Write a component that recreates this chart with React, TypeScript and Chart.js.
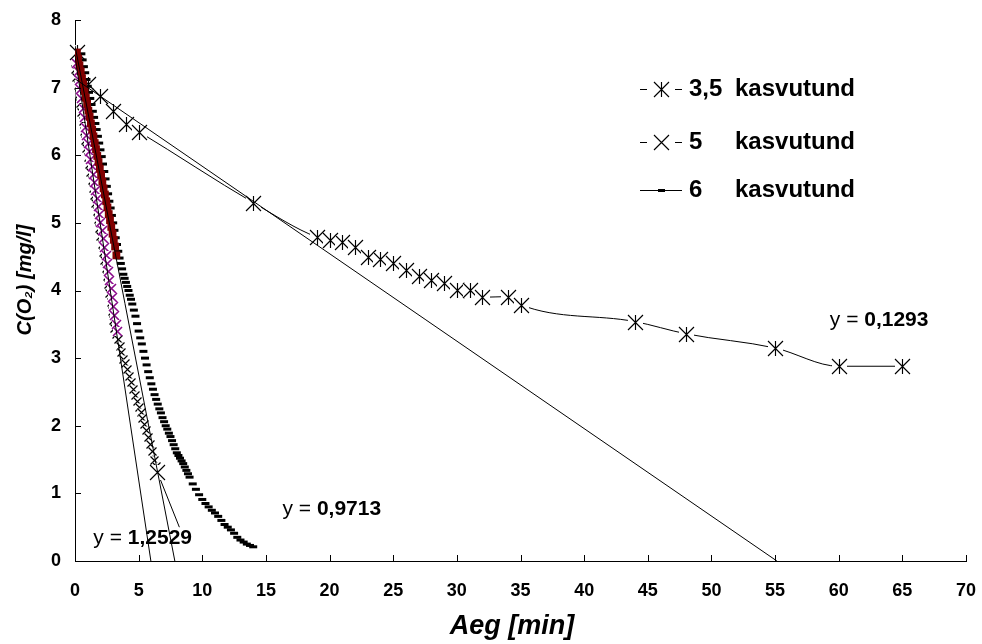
import React, { useEffect, useRef } from 'react';
import { Chart, registerables } from 'chart.js';

Chart.register(...registerables);

const FONT = "Arial, 'Liberation Sans', Helvetica, sans-serif";

// ---- tick labels ----
const xTickValues = [0, 5, 10, 15, 20, 25, 30, 35, 40, 45, 50, 55, 60, 65, 70];
const yTickValues = [0, 1, 2, 3, 4, 5, 6, 7, 8];

// ---- legend / titles ----
const seriesNumbers = ['3,5', '5', '6'];
const seriesWord = 'kasvutund';
const xTitle = 'Aeg [min]';
const yTitle = 'C(O\u2082) [mg/l]';

// ---- 3,5 kasvutund ----
const s35X = [0.15, 1, 2, 3, 4, 5, 14, 19, 20, 21, 22, 23, 24, 25, 26, 27, 28, 29, 30, 31, 32, 34, 35, 44, 48, 55, 60, 65];
const s35Y = [7.52, 7.05, 6.87, 6.65, 6.46, 6.35, 5.3, 4.79, 4.75, 4.71, 4.65, 4.5, 4.46, 4.41, 4.3, 4.22, 4.16, 4.11, 4.01, 4.01, 3.9, 3.91, 3.79, 3.54, 3.36, 3.15, 2.88, 2.88];

// ---- 5 kasvutund ----
const fiveX = [0.0, 0.1, 0.2, 0.3, 0.4, 0.5, 0.6, 0.7, 0.8, 0.9, 1.0, 1.1, 1.2, 1.3, 1.4, 1.5, 1.6, 1.7, 1.8, 1.9, 2.0, 2.1, 2.2, 2.3, 2.4, 2.5, 2.6, 2.7, 2.8, 2.9, 3.0, 3.1, 3.2,
  3.35, 3.5, 3.65, 3.8, 3.95, 4.1, 4.25, 4.4, 4.55, 4.7, 4.85, 5.0, 5.15, 5.3, 5.45, 5.6, 5.75, 5.9, 6.05, 6.2, 6.35, 6.46, 8.2];
const fiveY = [7.28, 7.16, 7.04, 6.91, 6.78, 6.64, 6.5, 6.36, 6.22, 6.1, 5.98, 5.87, 5.75, 5.64, 5.52, 5.41, 5.29, 5.17, 5.05, 4.93, 4.81, 4.69, 4.57, 4.45, 4.33, 4.21, 4.09, 3.96, 3.83, 3.7, 3.57, 3.45, 3.35,
  3.28, 3.18, 3.09, 2.99, 2.93, 2.84, 2.74, 2.64, 2.55, 2.46, 2.37, 2.28, 2.2, 2.12, 2.03, 1.93, 1.83, 1.73, 1.62, 1.5, 1.4, 1.32, 0.5];

// ---- 5 kasvutund, fitted part (purple) ----
const fiveFitX = [0.1, 0.2, 0.3, 0.4, 0.5, 0.6, 0.7, 0.8, 0.9, 1.0, 1.1, 1.2, 1.3, 1.4, 1.5, 1.6, 1.7, 1.8, 1.9, 2.0, 2.1, 2.2, 2.3, 2.4, 2.5, 2.6, 2.7, 2.8, 2.9, 3.0, 3.1, 3.2, 3.3];
const fiveFitY = [7.36, 7.24, 7.11, 6.98, 6.84, 6.7, 6.56, 6.42, 6.3, 6.18, 6.07, 5.95, 5.84, 5.72, 5.61, 5.49, 5.37, 5.25, 5.13, 5.01, 4.89, 4.77, 4.65, 4.53, 4.41, 4.29, 4.16, 4.03, 3.9, 3.77, 3.64, 3.51, 3.4];

// ---- 6 kasvutund ----
const sixX = [0.5, 0.6, 0.7, 0.8, 0.9, 1.0, 1.1, 1.2, 1.3, 1.4, 1.5, 1.6, 1.7, 1.8, 1.9, 2.0, 2.1, 2.2, 2.3, 2.4, 2.5, 2.6, 2.7, 2.8, 2.9, 3.0, 3.1, 3.2, 3.3, 3.4, 3.5, 3.6, 3.7, 3.8, 3.9, 4.0, 4.1, 4.2, 4.3, 4.4,
  4.5, 4.625, 4.75, 4.875, 5.0, 5.125, 5.25, 5.375, 5.5, 5.625, 5.75, 5.875, 6.0, 6.125, 6.25, 6.375, 6.5, 6.625, 6.75, 6.875, 7.0, 7.125, 7.25, 7.375, 7.5, 7.625, 7.75, 7.875, 8.0, 8.125, 8.25, 8.375, 8.5, 8.625, 8.75, 8.875, 9.0,
  9.25, 9.5, 9.75, 10.0, 10.25, 10.5, 10.75, 11.0, 11.25, 11.5, 11.75, 12.0, 12.25, 12.5, 12.75, 13.0, 13.25, 13.5, 13.75, 14.0];
const sixY = [7.5, 7.41, 7.31, 7.22, 7.12, 7.02, 6.93, 6.84, 6.75, 6.65, 6.56, 6.47, 6.38, 6.28, 6.18, 6.08, 5.98, 5.87, 5.76, 5.65, 5.54, 5.43, 5.32, 5.22, 5.11, 5.0, 4.89, 4.78, 4.68, 4.58, 4.48, 4.4, 4.32, 4.24, 4.18, 4.12, 4.06, 4.0, 3.93, 3.87,
  3.8, 3.71, 3.62, 3.51, 3.4, 3.3, 3.21, 3.1, 3.0, 2.9, 2.8, 2.71, 2.62, 2.54, 2.46, 2.39, 2.32, 2.25, 2.19, 2.12, 2.06, 2.0, 1.95, 1.89, 1.84, 1.78, 1.72, 1.66, 1.6, 1.56, 1.52, 1.48, 1.44, 1.39, 1.34, 1.29, 1.24,
  1.14, 1.06, 0.98, 0.91, 0.85, 0.8, 0.75, 0.71, 0.66, 0.6, 0.54, 0.5, 0.46, 0.41, 0.35, 0.31, 0.28, 0.25, 0.23, 0.21];

// ---- 6 kasvutund, fitted part (dark red) ----
const sixFitX = [0.15, 0.25, 0.35, 0.45, 0.55, 0.65, 0.75, 0.85, 0.95, 1.05, 1.15, 1.25, 1.35, 1.45, 1.55, 1.65, 1.75, 1.85, 1.95, 2.05, 2.15, 2.25, 2.35, 2.45, 2.55, 2.65, 2.75, 2.85, 2.95, 3.05, 3.15, 3.25];
const sixFitY = [7.52, 7.43, 7.33, 7.24, 7.14, 7.05, 6.95, 6.85, 6.76, 6.66, 6.57, 6.47, 6.38, 6.28, 6.18, 6.09, 5.99, 5.9, 5.8, 5.71, 5.61, 5.51, 5.42, 5.32, 5.23, 5.13, 5.04, 4.94, 4.84, 4.75, 4.65, 4.52];

// ---- trend lines ----
const trendSlopes = [0.1293, 0.9713, 1.2529];
const trendIntercepts = [7.13, 7.62, 7.47];
const trendLabelNumbers = ['0,1293', '0,9713', '1,2529'];

// layout constants (not data)
const TREND_LABEL_POS = [
  { x: 59.3, y: 3.56 },
  { x: 16.3, y: 0.77 },
  { x: 1.44, y: 0.34 },
];
const LEGEND_ROWS_Y = [89, 142, 190];

const pts = (xs: number[], ys: number[]) => xs.map((x, i) => ({ x, y: ys[i] }));

function drawMarker(ctx: CanvasRenderingContext2D, kind: string, cx: number, cy: number, r: number, color: string, bg: boolean, lw: number) {
  const x = Math.round(cx) + 0.5;
  const y = Math.round(cy) + 0.5;
  if (bg) {
    ctx.fillStyle = '#ffffff';
    ctx.fillRect(x - r, y - r, 2 * r, 2 * r);
  }
  ctx.strokeStyle = color;
  ctx.lineWidth = lw;
  ctx.beginPath();
  ctx.moveTo(x - r, y - r);
  ctx.lineTo(x + r, y + r);
  ctx.moveTo(x + r, y - r);
  ctx.lineTo(x - r, y + r);
  if (kind === 'asterisk') {
    ctx.moveTo(x, y - r);
    ctx.lineTo(x, y + r);
  }
  ctx.stroke();
}

export default function App() {
  const ref = useRef<HTMLCanvasElement | null>(null);

  useEffect(() => {
    document.body.style.margin = '0';
    const canvas = ref.current;
    if (!canvas) return;

    const bigIdx = fiveX.length - 2;
    const tailIdx = fiveX.length - 1;

    const markerPlugin = {
      id: 'markers',
      afterDatasetDraw(chart: any, args: any) {
        const ds: any = chart.data.datasets[args.index];
        if (!ds.marker) return;
        const ctx = chart.ctx;
        ctx.save();
        args.meta.data.forEach((el: any, i: number) => {
          const r = ds.marker.size(i);
          if (!r) return;
          drawMarker(ctx, ds.marker.kind, el.x, el.y, r, ds.marker.color, true, ds.marker.lineWidth);
        });
        ctx.restore();
      },
    };

    const overlay = {
      id: 'overlay',
      afterDraw(chart: any) {
        const { ctx, chartArea, scales } = chart;
        const xs = scales.x;
        const ys = scales.y;
        ctx.save();
        // inner tick marks
        ctx.strokeStyle = '#000';
        ctx.lineWidth = 1;
        ctx.beginPath();
        for (const v of yTickValues) {
          const p = Math.round(ys.getPixelForValue(v)) + 0.5;
          ctx.moveTo(chartArea.left, p);
          ctx.lineTo(chartArea.left + 6, p);
        }
        for (const v of xTickValues) {
          const p = Math.round(xs.getPixelForValue(v)) + 0.5;
          ctx.moveTo(p, chartArea.bottom);
          ctx.lineTo(p, chartArea.bottom - 6);
        }
        ctx.stroke();

        // trend labels
        ctx.fillStyle = '#000';
        ctx.textBaseline = 'middle';
        ctx.textAlign = 'left';
        trendLabelNumbers.forEach((num, i) => {
          const px = xs.getPixelForValue(TREND_LABEL_POS[i].x);
          const py = ys.getPixelForValue(TREND_LABEL_POS[i].y);
          ctx.font = `21px ${FONT}`;
          const pre = 'y = ';
          ctx.fillText(pre, px, py);
          const w = ctx.measureText(pre).width;
          ctx.font = `bold 21px ${FONT}`;
          ctx.fillText(num, px + w, py);
        });

        // legend
        const symL = 640;
        const symR = 682;
        const symC = 661;
        LEGEND_ROWS_Y.forEach((y, i) => {
          const yy = Math.round(y) + 0.5;
          ctx.strokeStyle = '#000';
          ctx.lineWidth = 1;
          ctx.beginPath();
          if (i < 2) {
            ctx.moveTo(symL, yy);
            ctx.lineTo(symL + 7, yy);
            ctx.moveTo(symR - 7, yy);
            ctx.lineTo(symR, yy);
          } else {
            ctx.moveTo(symL, yy);
            ctx.lineTo(symR, yy);
          }
          ctx.stroke();
          if (i === 0) {
            drawMarker(ctx, 'asterisk', symC, y, 7.5, '#000', false, 1.15);
          } else if (i === 1) {
            drawMarker(ctx, 'x', symC, y, 7.5, '#000', false, 1.15);
          } else {
            ctx.beginPath();
            ctx.lineWidth = 3;
            ctx.moveTo(symC - 3, yy);
            ctx.lineTo(symC + 4, yy);
            ctx.stroke();
          }
          ctx.fillStyle = '#000';
          ctx.font = `bold 24px ${FONT}`;
          ctx.textBaseline = 'middle';
          ctx.textAlign = 'left';
          ctx.fillText(seriesNumbers[i], 689, y);
          ctx.fillText(seriesWord, 735, y);
        });

        // axis titles
        ctx.font = `italic bold 27px ${FONT}`;
        ctx.textAlign = 'center';
        ctx.textBaseline = 'alphabetic';
        ctx.fillText(xTitle, 512, 634);

        ctx.save();
        ctx.translate(31, 280);
        ctx.rotate(-Math.PI / 2);
        ctx.font = `italic bold 20px ${FONT}`;
        ctx.textAlign = 'center';
        ctx.textBaseline = 'alphabetic';
        ctx.fillText(yTitle, 0, 0);
        ctx.restore();

        ctx.restore();
      },
    };

    const chart = new Chart(canvas, {
      type: 'line',
      data: {
        datasets: [
          ...trendSlopes.map((m, i) => ({
            label: 'trend ' + trendLabelNumbers[i],
            data: [
              { x: 0, y: trendIntercepts[i] },
              { x: trendIntercepts[i] / m, y: 0 },
            ],
            borderColor: '#000',
            borderWidth: 1,
            pointRadius: 0,
            tension: 0,
            order: 0,
          })),
          {
            label: '6 kasvutund (fit)',
            data: pts(sixFitX, sixFitY),
            showLine: false,
            pointStyle: 'rect',
            pointRadius: 5.5,
            pointBackgroundColor: '#800000',
            pointBorderColor: '#800000',
            pointBorderWidth: 0,
            order: 1,
          },
          {
            label: '5 kasvutund (fit)',
            data: pts(fiveFitX, fiveFitY),
            showLine: false,
            pointRadius: 0,
            marker: { kind: 'x', color: '#8a0a8a', size: () => 4.5, lineWidth: 1.6 },
            order: 2,
          },
          {
            label: '6 kasvutund',
            data: pts(sixX, sixY),
            showLine: false,
            pointStyle: 'line',
            pointRadius: 4,
            pointBorderWidth: 3,
            pointBorderColor: '#000',
            pointBackgroundColor: '#000',
            order: 3,
          },
          {
            label: '5 kasvutund',
            data: pts(fiveX, fiveY),
            borderColor: '#000',
            borderWidth: 1,
            tension: 0,
            pointRadius: 0,
            marker: { kind: 'x', color: '#000', size: (i: number) => (i === tailIdx ? 0 : i === bigIdx ? 7.5 : 4), lineWidth: 1.15 },
            order: 4,
          },
          {
            label: '3,5 kasvutund',
            data: pts(s35X, s35Y),
            borderColor: '#000',
            borderWidth: 1,
            cubicInterpolationMode: 'monotone',
            tension: 0.4,
            pointRadius: 0,
            marker: { kind: 'asterisk', color: '#000', size: () => 7.5, lineWidth: 1.15 },
            order: 5,
          },
        ] as any,
      },
      options: {
        animation: false,
        responsive: true,
        maintainAspectRatio: false,
        devicePixelRatio: 1,
        events: [],
        layout: { padding: { top: 20, right: 16, left: 0, bottom: 0 } },
        plugins: {
          legend: { display: false },
          tooltip: { enabled: false },
          title: { display: false },
        },
        scales: {
          x: {
            type: 'linear',
            min: 0,
            max: 70,
            grid: { display: false, drawTicks: false, tickLength: 0 },
            border: { display: true, color: '#000', width: 1 },
            ticks: {
              font: { family: FONT, size: 18, weight: 'bold' },
              color: '#000',
              padding: 19,
              maxRotation: 0,
              autoSkip: false,
              callback: (v: any) => String(v),
            },
            afterBuildTicks: (s: any) => {
              s.ticks = xTickValues.map((v) => ({ value: v }));
            },
            afterFit: (s: any) => {
              s.height = 83;
              s.paddingLeft = 0;
              s.paddingRight = 0;
            },
          },
          y: {
            type: 'linear',
            min: 0,
            max: 8,
            grid: { display: false, drawTicks: false, tickLength: 0 },
            border: { display: true, color: '#000', width: 1 },
            ticks: {
              font: { family: FONT, size: 18, weight: 'bold' },
              color: '#000',
              padding: 14,
              autoSkip: false,
              callback: (v: any) => String(v),
            },
            afterBuildTicks: (s: any) => {
              s.ticks = yTickValues.map((v) => ({ value: v }));
            },
            afterFit: (s: any) => {
              s.width = 75;
              s.paddingTop = 0;
              s.paddingBottom = 0;
            },
          },
        },
      } as any,
      plugins: [markerPlugin, overlay],
    });

    return () => chart.destroy();
  }, []);

  return (
    <div style={{ width: 982, height: 644, position: 'relative', background: '#fff' }}>
      <canvas ref={ref} />
    </div>
  );
}
